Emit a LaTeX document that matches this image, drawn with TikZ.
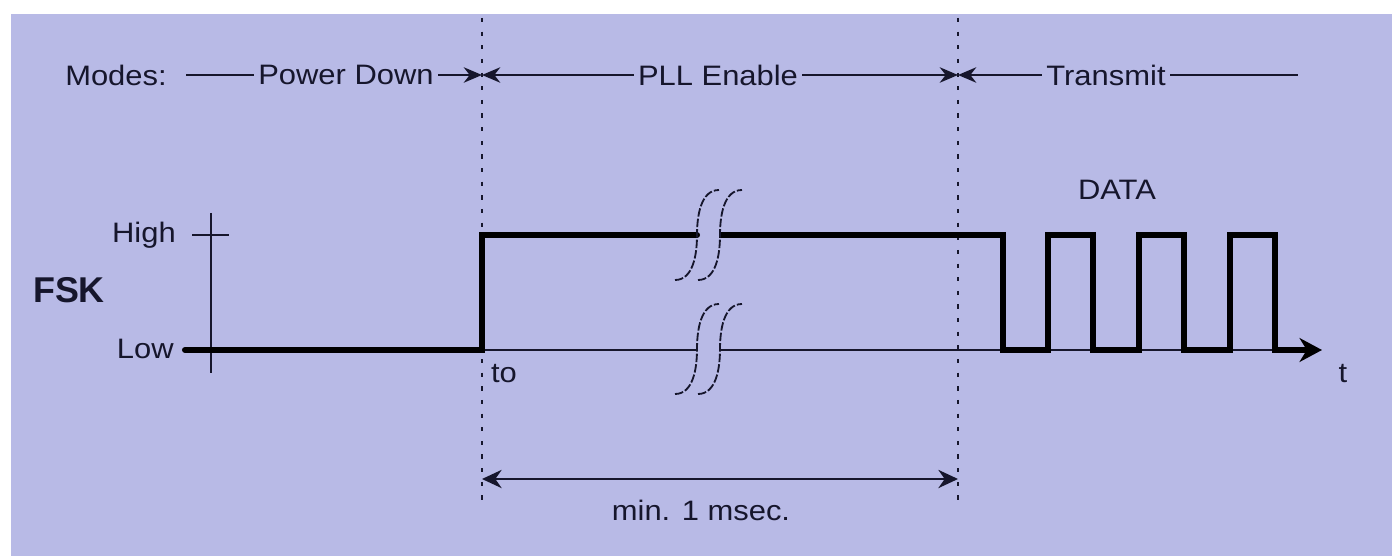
\documentclass[tikz,border=0pt]{standalone}
\usepackage{fontspec}
\setmainfont{Liberation Sans}[FakeStretch=1.1]
\newfontfamily\fskfont{Liberation Sans}
\usetikzlibrary{arrows.meta}
\definecolor{panel}{RGB}{184,186,230}
\definecolor{ink}{RGB}{22,22,44}

\begin{document}
\begin{tikzpicture}[x=0.025cm, y=-0.025cm,
    lbl/.style={font=\fontsize{20}{22}\selectfont, text=ink, inner xsep=3pt, inner ysep=0pt},
    rule/.style={line width=1.4pt, ink},
    sig/.style={line width=4.3pt, black, line join=miter},
    guide/.style={line width=1.3pt, ink, dash pattern=on 3pt off 6.7pt},
    brk/.style={line width=1.3pt, ink, dash pattern=on 6pt off 1.5pt},
    >={Stealth[length=13pt, width=11pt]}]
        % Panel
        \useasboundingbox (0,0) rectangle (1392,556);
        \fill[panel] (11,14) rectangle (1392,556);

        % Mode boundaries (dotted)
        \coordinate (ontop) at (482,18);
        \coordinate (onbot) at (482,500);
        \coordinate (txtop) at (958,18);
        \coordinate (txbot) at (958,500);
        \draw[guide] (ontop) -- (onbot);
        \draw[guide] (txtop) -- (txbot);

        % Modes row
        \node[lbl] (modes) at (116,75) {Modes:};
        \node[lbl] (pd) at (346,75) {Power Down};
        \node[lbl] (pll) at (718,75) {PLL Enable};
        \node[lbl] (tx) at (1106,75) {Transmit};
        \coordinate (pdl) at (186,75);
        \coordinate (onmode) at (482,75);
        \coordinate (txmode) at (958,75);
        \coordinate (txr) at (1298,75);
        \draw[rule] (pdl) -- (pd.west);
        \draw[rule, ->] (pd.east) -- (onmode);
        \draw[rule, <-] (onmode) -- (pll.west);
        \draw[rule, ->] (pll.east) -- (txmode);
        \draw[rule, <-] (txmode) -- (tx.west);
        \draw[rule] (tx.east) -- (txr);

        % Axis
        \node[font=\fskfont\bfseries\fontsize{25.5}{28}\selectfont, text=ink] (fsk) at (69,290) {FSK};
        \node[lbl, anchor=east, inner xsep=0pt] (high) at (176,235) {High};
        \node[lbl, anchor=east, inner xsep=0pt] (low) at (174,349) {Low};
        \coordinate (ytop) at (211,213);
        \coordinate (ybot) at (211,373);
        \coordinate (hl) at (192,235);
        \coordinate (hr) at (229,235);
        \draw[rule] (ytop) -- (ybot);
        \draw[rule] (hl) -- (hr);
        \draw[rule] (211,350) -- (697,350);
        \draw[rule] (719,350) -- (1300,350);

        % FSK signal
        \draw[sig, line cap=round] (185,350) -- (482,350) -- (482,235) -- (697,235);
        \draw[sig, -{Stealth[length=16pt, width=17pt]}] (719,235) -- (1003,235) -- (1003,350)
            -- (1048,350) -- (1048,235) -- (1093,235) -- (1093,350)
            -- (1139,350) -- (1139,235) -- (1184,235) -- (1184,350)
            -- (1230,350) -- (1230,235) -- (1275,235) -- (1275,350) -- (1322,350);

        % Breaks
        \draw[brk] (675,280) .. controls (693,280) and (697,255) .. (697,235)
            .. controls (697,215) and (701,190) .. (719,190);
        \draw[brk] (698,280) .. controls (716,280) and (720,255) .. (720,235)
            .. controls (720,215) and (724,190) .. (742,190);
        \draw[brk] (675,394) .. controls (693,394) and (697,369) .. (697,349)
            .. controls (697,329) and (701,304) .. (719,304);
        \draw[brk] (698,394) .. controls (716,394) and (720,369) .. (720,349)
            .. controls (720,329) and (724,304) .. (742,304);

        % Labels
        \node[lbl] (data) at (1117,190) {DATA};
        \node[lbl] (to) at (504,374) {to};
        \node[lbl] (t) at (1343,374) {t};

        % Minimum duration
        \coordinate (dimL) at (482,479);
        \coordinate (dimR) at (958,479);
        \draw[rule, {Stealth[length=14pt, width=13pt]}-{Stealth[length=14pt, width=13pt]}] (dimL) -- (dimR);
        \node[lbl] (min) at (701,510) {min. 1 msec.};

\end{tikzpicture}
\end{document}
